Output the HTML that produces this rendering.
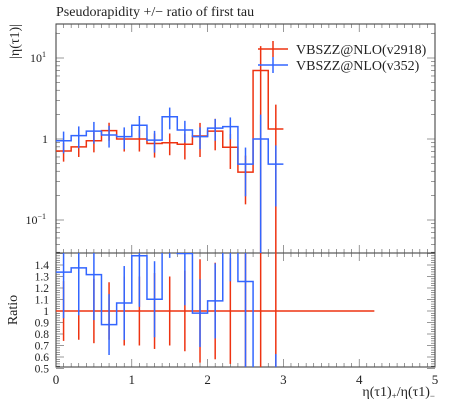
<!DOCTYPE html>
<html><head><meta charset="utf-8"><style>
html,body{margin:0;background:#fff;width:450px;height:406px;overflow:hidden}
svg{display:block}
svg text{font-family:"Liberation Serif",serif;fill:#222}
</style></head><body>
<svg id="c" width="450" height="406"></svg>
<script>
const binEdges=[0,0.2,0.4,0.6,0.8,1.0,1.2,1.4,1.6,1.8,2.0,2.2,2.4,2.6,2.8,3.0];
const redVals=[0.71,0.80,0.95,1.27,1.0,1.0,0.88,0.90,0.86,1.09,1.25,0.79,0.39,7.0,1.33];
const redErr=[0.26,0.25,0.28,0.25,0.30,0.30,0.33,0.30,0.35,0.45,0.42,0.46,0.6,1.0,1.0];
const blueVals=[0.95,1.1,1.25,1.12,1.07,1.48,0.97,1.88,1.29,1.07,1.36,1.42,0.49,1.0,0.49];
const blueErr=[0.3,0.3,0.3,0.3,0.3,0.3,0.3,0.3,0.3,0.3,0.3,0.3,0.6,1.0,0.7];
const xTicks=[0,1,2,3,4,5];
const ratioTicks=[0.5,0.6,0.7,0.8,0.9,1,1.1,1.2,1.3,1.4];
const NS="http://www.w3.org/2000/svg",svg=document.getElementById('c');
function el(t,a,p){const e=document.createElementNS(NS,t);for(const k in a)e.setAttribute(k,a[k]);(p||svg).appendChild(e);return e;}
const X0=56,X1=435,MT=24,MB=253,RB=367;
const xs=v=>X0+(X1-X0)*v/5;
const ys=v=>{let l=Math.log10(Math.max(v,1e-4));return 139-81*l;};
const yr=v=>311-(v-1)*115;
const clipM=el('clipPath',{id:'cm'});el('rect',{x:X0,y:MT,width:X1-X0,height:MB-MT},clipM);
const clipR=el('clipPath',{id:'cr'});el('rect',{x:X0,y:MB,width:X1-X0,height:RB-MB},clipR);
let f=el('rect',{x:X0,y:MT,width:X1-X0,height:MB-MT,fill:'none',stroke:'#333'});

f=el('rect',{x:X0,y:MB,width:X1-X0,height:RB-MB,fill:'none',stroke:'#333'});

for(let v=0;v<=5.001;v+=0.1){const x=xs(v),maj=Math.abs(v-Math.round(v))<1e-6,len=maj?8:4;
 for(const [a,b] of [[MT,1],[MB,-1],[MB,1],[RB,-1]]) el('line',{x1:x,x2:x,y1:a,y2:a+b*len,stroke:'#555','stroke-width':0.6});}
xTicks.forEach(v=>{const t=el('text',{x:xs(v),y:384,'text-anchor':'middle','font-size':13});t.textContent=v;
 });
for(let d=-2;d<=1;d++)for(let m=1;m<10;m++){const y=ys(m*Math.pow(10,d));if(y<MT||y>MB)continue;const len=m==1?8:4;
 el('line',{x1:X0,x2:X0+len,y1:y,y2:y,stroke:'#555','stroke-width':0.6});el('line',{x1:X1,x2:X1-len,y1:y,y2:y,stroke:'#555','stroke-width':0.6});}
[[10,'10','1'],[1,'1',''],[0.1,'10','−1']].forEach(([v,b,e])=>{const t=el('text',{x:e?46:48,y:ys(v)+4,'text-anchor':'end','font-size':12});
 t.textContent=b;if(e){const s=el('tspan',{dy:-5,'font-size':8},t);s.textContent=e;}
 });
for(let v=0.5;v<=1.5001;v+=0.02){const y=yr(v),maj=Math.abs(v*10-Math.round(v*10))<1e-6,len=maj?8:4;
 el('line',{x1:X0,x2:X0+len,y1:y,y2:y,stroke:'#555','stroke-width':0.6});el('line',{x1:X1,x2:X1-len,y1:y,y2:y,stroke:'#555','stroke-width':0.6});}
ratioTicks.forEach(v=>{const t=el('text',{x:49,y:yr(v)+4,'text-anchor':'end','font-size':11.5});t.textContent=v;
 });
function series(vals,errs,col,name){
 const g=el('g',{'clip-path':'url(#cm)'});
 let d='';vals.forEach((v,i)=>{d+=(i?'L':'M')+xs(binEdges[i])+','+ys(v)+'L'+xs(binEdges[i+1])+','+ys(v);});
 el('path',{d,fill:'none',stroke:col,'stroke-width':1.5},g);
 vals.forEach((v,i)=>{const xc=xs((binEdges[i]+binEdges[i+1])/2);
  const b=el('line',{x1:xc,x2:xc,y1:ys(v*(1+errs[i])),y2:ys(v*(1-errs[i])),stroke:col,'stroke-width':1.5},g);
  });
}
series(redVals,redErr,'#ee3311','red');
series(blueVals,blueErr,'#3366ff','blue');
const gr=el('g',{'clip-path':'url(#cr)'});
el('line',{x1:xs(0),x2:xs(4.2),y1:yr(1),y2:yr(1),stroke:'#ee3311','stroke-width':1.5},gr);
redVals.forEach((v,i)=>{const xc=xs((binEdges[i]+binEdges[i+1])/2);
 const b=el('line',{x1:xc,x2:xc,y1:yr(1+redErr[i]),y2:yr(1-redErr[i]),stroke:'#ee3311','stroke-width':1.5},gr);
 });
let d='';blueVals.forEach((v,i)=>{const r=v/redVals[i];d+=(i?'L':'M')+xs(binEdges[i])+','+yr(r)+'L'+xs(binEdges[i+1])+','+yr(r);});
const bp=el('path',{d,fill:'none',stroke:'#3366ff','stroke-width':1.5},gr);
blueVals.forEach((v,i)=>{const r=v/redVals[i],xc=xs((binEdges[i]+binEdges[i+1])/2);
 const b=el('line',{x1:xc,x2:xc,y1:yr(r*(1+blueErr[i])),y2:yr(r*(1-blueErr[i])),stroke:'#3366ff','stroke-width':1.5},gr);
 });
[['#ee3311','VBSZZ@NLO(v2918)',49],['#3366ff','VBSZZ@NLO(v352)',65]].forEach(([c,l,y])=>{
 const g=el('g',{});
 el('line',{x1:258,x2:288,y1:y,y2:y,stroke:c,'stroke-width':1.5},g);el('line',{x1:273,x2:273,y1:y-8,y2:y+8,stroke:c,'stroke-width':1.5},g);
 const t=el('text',{x:296,y:y+5,'font-size':14},g);t.textContent=l;});
let t=el('text',{x:56,y:16,'font-size':14});t.textContent='Pseudorapidity +/− ratio of first tau';

t=el('text',{x:0,y:0,'font-size':14,'text-anchor':'end',transform:'translate(19,24) rotate(-90)'});t.textContent='|η(τ1)|';

t=el('text',{x:0,y:0,'font-size':14,'text-anchor':'middle',transform:'translate(17,310) rotate(-90)'});t.textContent='Ratio';

t=el('text',{x:435,y:396,'font-size':14,'text-anchor':'end'});t.innerHTML='η(τ1)<tspan font-size="9" dy="3">+</tspan><tspan dy="-3">/η(τ1)</tspan><tspan font-size="9" dy="3">−</tspan>';

</script>
</body></html>
